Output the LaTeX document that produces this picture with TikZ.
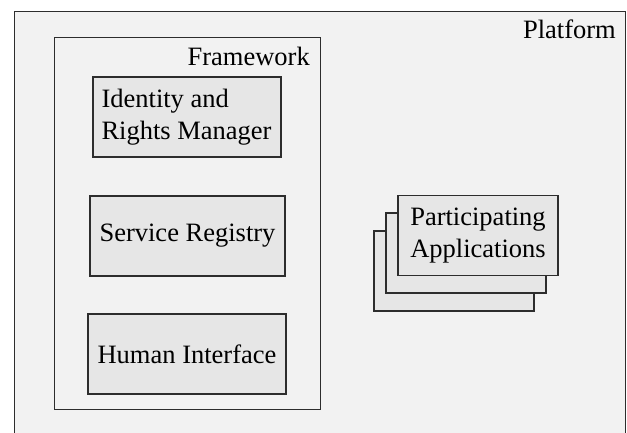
\documentclass[tikz,border=0pt]{standalone}
\usepackage{fontspec}
\setmainfont{Liberation Serif}
\usetikzlibrary{positioning}
\definecolor{platgray}{RGB}{242, 242, 242}
\definecolor{boxgray}{RGB}{230, 230, 230}
\definecolor{edgegray}{RGB}{45, 45, 45}
\tikzset{
  diagtext/.style={font=\fontsize{26.5}{31.5}\selectfont},
  areabox/.style={draw=edgegray, fill=platgray, line width=1.3pt, inner sep=0pt, anchor=north west},
  compbox/.style={draw=edgegray, fill=boxgray, line width=1.3pt, inner sep=0pt, diagtext, align=center}
}
\begin{document}
\begin{tikzpicture}[x=1pt, y=-1pt]
    \clip (0,0) rectangle (627,432);
    \fill[white] (0,0) rectangle (627,432);
    % outer areas
    \node[areabox, minimum width=611pt, minimum height=440pt] (platform) at (14,11) {};
    \node[anchor=base east, inner sep=0pt, diagtext] (platformlbl) at (616,38) {Platform};
    \node[areabox, minimum width=266pt, minimum height=372pt] (framework) at (54,37) {};
    \node[anchor=base east, inner sep=0pt, diagtext] (frameworklbl) at (310,65) {Framework};
    % framework parts
    \node[compbox, minimum width=188pt, minimum height=80pt] (idm) at (187,117) {};
    \node[anchor=west, inner sep=0pt, diagtext, align=left] (idmlbl) at ([xshift=9pt]idm.west) {Identity and\\Rights Manager};
    \node[compbox, minimum width=195pt, minimum height=80pt] (registry) at (187.5,236) {Service Registry};
    \node[compbox, minimum width=198pt, minimum height=80pt] (human) at (187,354) {Human Interface};
    % stacked applications
    \node[compbox, minimum width=160pt, minimum height=80pt] (apps3) at (454,271) {};
    \node[compbox, minimum width=160pt, minimum height=80pt] (apps2) at (466,253) {};
    \node[compbox, minimum width=160pt, minimum height=80pt] (apps) at (478,235.5) {Participating\\Applications};
  \end{tikzpicture}
\end{document}
